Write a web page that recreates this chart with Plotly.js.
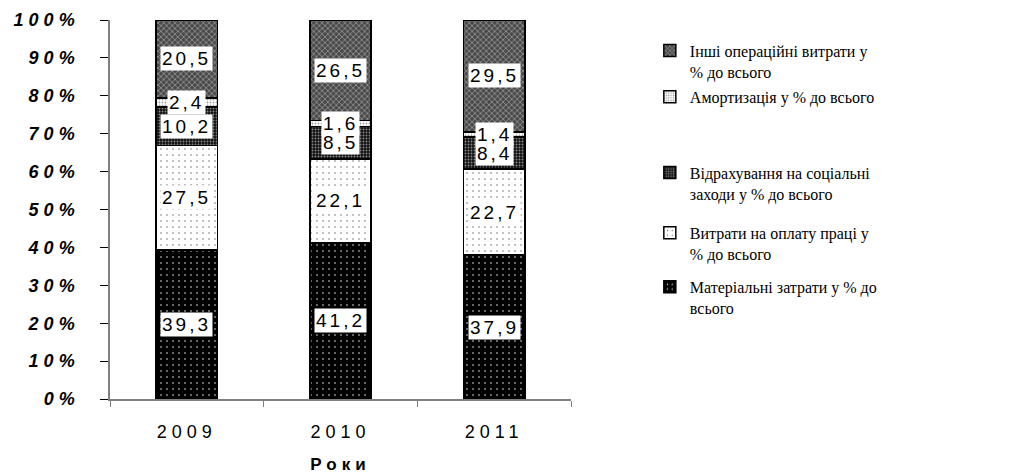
<!DOCTYPE html>
<html>
<head>
<meta charset="utf-8">
<script src="https://cdn.plot.ly/plotly-3.0.1.min.js"></script>
<style>
  html, body { margin: 0; padding: 0; background: #fff; }
  #chart { width: 1027px; height: 475px; }
  .ytick text { letter-spacing: 5px; }
  .xtick text { letter-spacing: 5px; }
  text.xtitle { letter-spacing: 5px; }
  text.annotation-text { letter-spacing: 3px; }
</style>
</head>
<body>
<div id="chart"></div>
<script>
const years = ['2009', '2010', '2011'];
const materialCosts = [39.3, 41.2, 37.9];
const laborCosts = [27.5, 22.1, 22.7];
const socialCharges = [10.2, 8.5, 8.4];
const depreciation = [2.4, 1.6, 1.4];
const otherCosts = [20.5, 26.5, 29.5];
const yTickValues = [0, 10, 20, 30, 40, 50, 60, 70, 80, 90, 100];
const yTickLabels = ['0%', '10%', '20%', '30%', '40%', '50%', '60%', '70%', '80%', '90%', '100%'];

const seriesNames = [
  'Матеріальні затрати у % до<br>всього',
  'Витрати на оплату праці у<br>% до всього',
  'Відрахування на соціальні<br>заходи у % до всього',
  'Амортизація у % до всього',
  'Інші операційні витрати у<br>% до всього'
];
const seriesValues = [materialCosts, laborCosts, socialCharges, depreciation, otherCosts];

const patterns = [
  {shape: '.', bgcolor: '#000000', fgcolor: '#ffffff', size: 6, solidity: 0.05, fillmode: 'replace'},
  {shape: '.', bgcolor: '#ffffff', fgcolor: '#666666', size: 6, solidity: 0.05, fillmode: 'replace'},
  {shape: '.', bgcolor: '#111111', fgcolor: '#8a8a8a', size: 3, solidity: 0.3, fillmode: 'replace'},
  {shape: '.', bgcolor: '#ffffff', fgcolor: '#a0a0a0', size: 3, solidity: 0.3, fillmode: 'replace'},
  {shape: 'x', bgcolor: '#4a4a4a', fgcolor: '#9a9a9a', size: 4, solidity: 0.35, fillmode: 'replace'}
];
const legendIds = ['legend6', 'legend5', 'legend4', 'legend3', 'legend2'];

const traces = seriesValues.map((vals, i) => ({
  type: 'bar',
  x: years,
  y: vals,
  name: seriesNames[i],
  legend: legendIds[i],
  marker: {
    color: patterns[i].bgcolor,
    pattern: patterns[i],
    line: {color: '#000000', width: 1.5}
  },
  hoverinfo: 'skip'
}));

// value labels at segment centres (category index on x, normalised stack on y)
const annotations = [];
years.forEach((yr, j) => {
  const total = seriesValues.reduce((s, arr) => s + arr[j], 0);
  let cum = 0;
  seriesValues.forEach((arr) => {
    const v = arr[j];
    const mid = (cum + v / 2) / total * 100;
    cum += v;
    annotations.push({
      x: j, y: mid, xref: 'x', yref: 'y',
      text: v.toFixed(1).replace('.', ','),
      showarrow: false,
      bgcolor: '#ffffff',
      borderpad: 1,
      font: {family: 'Liberation Sans, Arial, sans-serif', size: 19, color: '#000000'}
    });
  });
});

const legendFont = {family: 'Liberation Serif, Times New Roman, serif', size: 16, color: '#000000'};
function legendAt(y) {
  return {x: 1.171, y: y, xanchor: 'left', yanchor: 'top', valign: 'top',
          font: legendFont, bgcolor: 'rgba(0,0,0,0)', borderwidth: 0};
}

const layout = {
  width: 1027, height: 475,
  margin: {l: 110, r: 456, t: 20, b: 76},
  paper_bgcolor: '#ffffff', plot_bgcolor: '#ffffff',
  barmode: 'stack',
  barnorm: 'percent',
  bargap: 0.6,
  showlegend: true,
  legend2: legendAt(0.964),
  legend3: legendAt(0.842),
  legend4: legendAt(0.642),
  legend5: legendAt(0.483),
  legend6: legendAt(0.341),
  xaxis: {
    type: 'category',
    showline: true, linecolor: '#808080', linewidth: 1.5,
    ticks: 'outside', tickson: 'boundaries', ticklen: 6, tickcolor: '#808080',
    ticklabelstandoff: 16,
    showgrid: false,
    tickfont: {family: 'Liberation Sans, Arial, sans-serif', size: 18, color: '#000000'},
    title: {text: 'Роки', standoff: 17,
            font: {family: 'Liberation Sans, Arial, sans-serif', size: 17, color: '#000000', weight: 'bold'}}
  },
  yaxis: {
    range: [0, 100],
    tickmode: 'array',
    tickvals: yTickValues,
    ticktext: yTickLabels,
    showline: true, linecolor: '#808080', linewidth: 1.5,
    ticks: 'outside', ticklen: 8, tickcolor: '#000000',
    ticklabelstandoff: 17,
    showgrid: false, zeroline: false,
    tickfont: {family: 'Liberation Sans, Arial, sans-serif', size: 18, color: '#000000', weight: 'bold', style: 'italic'}
  },
  annotations: annotations
};

Plotly.newPlot('chart', traces, layout, {displayModeBar: false});
</script>
</body>
</html>
